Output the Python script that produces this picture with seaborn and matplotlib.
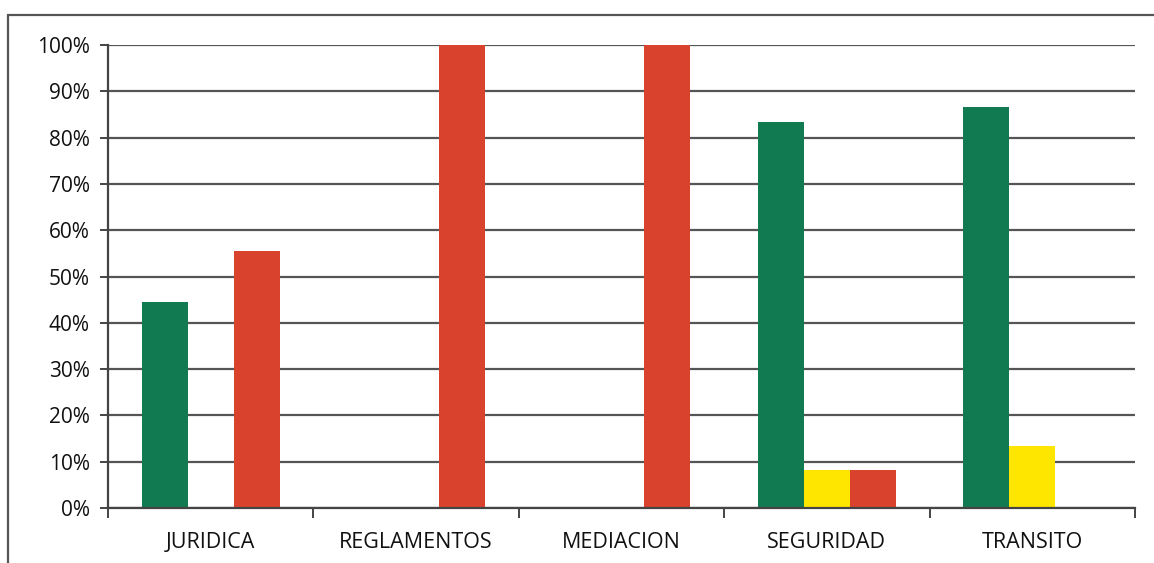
import numpy as np
import pandas as pd
import matplotlib
matplotlib.use("Agg")
import matplotlib.pyplot as plt
import seaborn as sns
from matplotlib.patches import Rectangle
from matplotlib.ticker import PercentFormatter, FixedLocator

# data
categories = ["JURIDICA", "REGLAMENTOS", "MEDIACION", "SEGURIDAD", "TRANSITO"]
series = ["verde", "amarillo", "rojo"]
verde = [44.4, 0, 0, 83.3, 86.7]
amarillo = [0, 0, 0, 8.3, 13.3]
rojo = [55.6, 100, 100, 8.3, 0]
colors = ["#127A50", "#FFE600", "#D9432E"]

df = pd.DataFrame({
    "categoria": categories * 3,
    "serie": [series[0]] * 5 + [series[1]] * 5 + [series[2]] * 5,
    "valor": verde + amarillo + rojo,
})

sns.set_style("white")
plt.rcParams["font.family"] = ["Open Sans", "DejaVu Sans"]

fig = plt.figure(figsize=(11.54, 5.63), dpi=100)
ax = fig.add_axes([0.0936, 0.0977, 0.8899, 0.8223])

sns.barplot(data=df, x="categoria", y="valor", hue="serie", palette=colors,
            width=0.67, saturation=1, legend=False, linewidth=0, ax=ax)

ax.set_ylim(0, 100)
ax.set_xlim(-0.5, 4.5)
ax.set_yticks(np.arange(0, 101, 10))
ax.yaxis.set_major_formatter(PercentFormatter(decimals=0))
ax.grid(axis="y", color="#555555", linewidth=1.6)
ax.set_axisbelow(True)
ax.set_xlabel("")
ax.set_ylabel("")

for s in ["top", "right"]:
    ax.spines[s].set_visible(False)
ax.spines["left"].set_color("#444444")
ax.spines["bottom"].set_color("#444444")
ax.spines["left"].set_linewidth(1.6)
ax.spines["bottom"].set_linewidth(1.6)

ax.tick_params(axis="x", which="major", length=0, pad=17, labelsize=15.5, labelcolor="#111111")
ax.xaxis.set_minor_locator(FixedLocator(np.arange(-0.5, 4.6, 1)))
ax.tick_params(axis="x", which="minor", length=7, width=1.4, color="#444444", direction="out", bottom=True)
ax.tick_params(axis="y", length=6, width=1.4, color="#444444", left=True, labelsize=15, labelcolor="#111111", pad=7)

# outer chart border
fig.patches.append(Rectangle((0.007, -0.05), 1.1, 1.023, transform=fig.transFigure,
                             fill=False, edgecolor="#555555", linewidth=1.6))

fig.savefig("out.png", dpi=100)
